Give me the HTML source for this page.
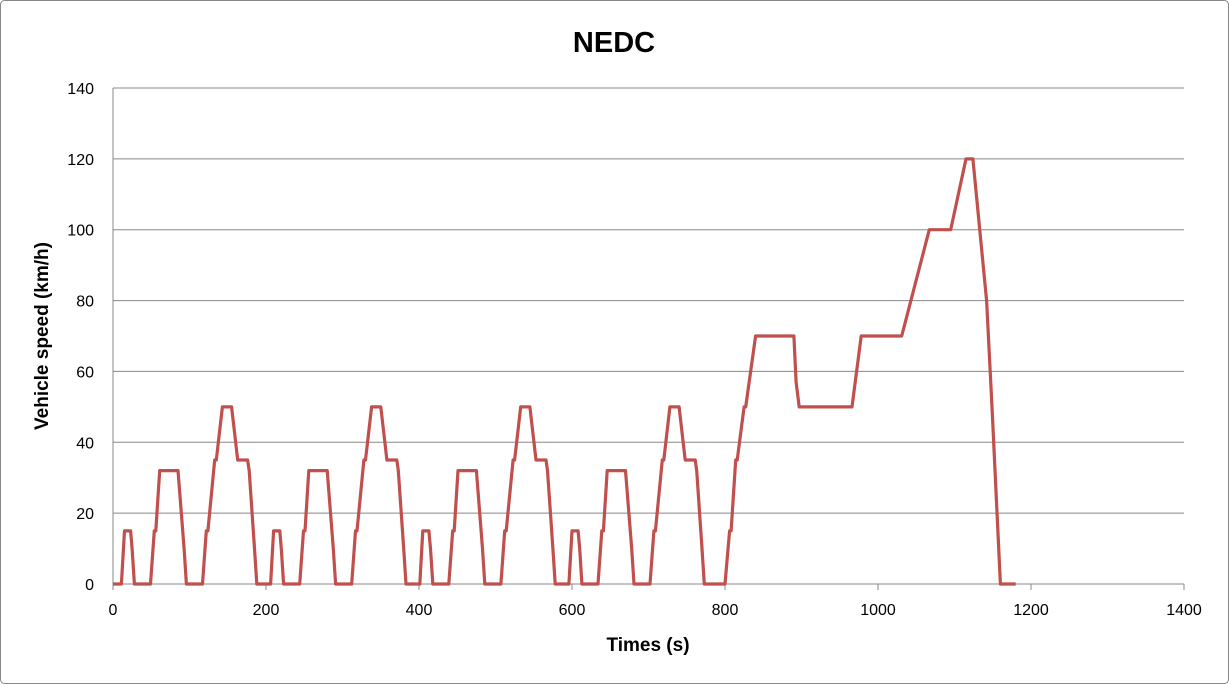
<!DOCTYPE html>
<html><head><meta charset="utf-8"><style>
body{margin:0;background:#fff;}
svg{display:block;font-family:"Liberation Sans",Arial,sans-serif;}
</style></head><body>
<svg id="s" width="1229" height="684" viewBox="0 0 1229 684">
<rect x="0.5" y="0.5" width="1228" height="683" fill="#fff" stroke="#888" rx="4"/>
<text x="614" y="52" text-anchor="middle" font-size="29" font-weight="bold">NEDC</text>
<g id="grid" stroke="#888" stroke-width="1"></g>
<g id="lbl" font-size="16" fill="#000"></g>
<text x="648" y="651" text-anchor="middle" font-size="19" font-weight="bold">Times (s)</text>
<text transform="translate(48,336) rotate(-90)" text-anchor="middle" font-size="19" font-weight="bold">Vehicle speed (km/h)</text>
<polyline id="p" fill="none" stroke="#c0504d" stroke-width="3.2" stroke-linejoin="round"/>
</svg>
<script>
var X0=113,XS=1071/1400,Y0=584,YS=496/140;
var g=document.getElementById('grid'),l=document.getElementById('lbl'),ns='http://www.w3.org/2000/svg';
function el(p,t,a,txt){var e=document.createElementNS(ns,t);for(var k in a)e.setAttribute(k,a[k]);if(txt!=null)e.textContent=txt;p.appendChild(e);}
for(var v=0;v<=140;v+=20){var y=Y0-v*YS;el(g,'line',{x1:X0,x2:1184,y1:y,y2:y});el(l,'text',{x:94,y:y+6,'text-anchor':'end'},v);}
el(g,'line',{x1:X0,x2:X0,y1:88,y2:590});
for(var t=0;t<=1400;t+=200){var x=X0+t*XS;el(g,'line',{x1:x,x2:x,y1:584,y2:590});el(l,'text',{x:x,y:615,'text-anchor':'middle'},t);}
var ece=[[0,0],[11,0],[15,15],[23,15],[25,10],[28,0],[49,0],[54,15],[56,15],[61,32],[85,32],[93,10],[96,0],[117,0],[122,15],[124,15],[133,35],[135,35],[143,50],[155,50],[163,35],[176,35],[178,32],[185,10],[188,0],[195,0]];
var pts=[];
for(var c=0;c<4;c++)ece.forEach(function(p){pts.push([p[0]+195*c,p[1]]);});
var eu=[[800,0],[806,15],[808,15],[814,35],[816,35],[825,50],[827,50],[840,70],[890,70],[893,57],[897,50],[966,50],[978,70],[1031,70],[1067,100],[1095,100],[1115,120],[1124,120],[1142,80],[1149,50],[1160,0],[1180,0]];
pts=pts.concat(eu);
document.getElementById('p').setAttribute('points',pts.map(function(p){return (X0+p[0]*XS).toFixed(1)+','+(Y0-p[1]*YS).toFixed(1);}).join(' '));
</script>
</body></html>
